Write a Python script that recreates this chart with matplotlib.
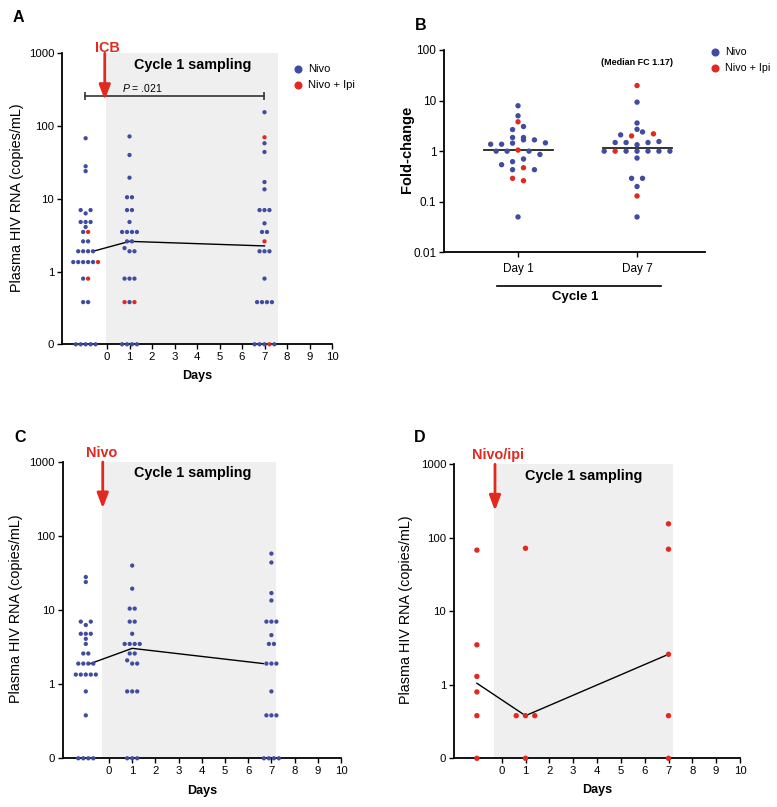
import numpy as np
import matplotlib
matplotlib.use('Agg')
import matplotlib.pyplot as plt
import matplotlib.ticker as mticker
from matplotlib.lines import Line2D

plt.rcParams['font.family'] = ['Liberation Sans', 'DejaVu Sans']
plt.rcParams['mathtext.fontset'] = 'custom'
plt.rcParams['mathtext.rm'] = 'Liberation Sans'
plt.rcParams['mathtext.it'] = 'Liberation Sans:italic'

# ---------------- data ----------------
y_tick_vals = [0, 1, 10, 100, 1000]
y_tick_labels = ['0', '1', '10', '100', '1000']
day_ticks = list(range(0, 11))

# Panel A: all participants (N = Nivo, I = Nivo + Ipi)
a_pre_vals = [0, 0, 0, 0, 0, 0.38, 0.38, 0.8, 0.8, 1.35, 1.35, 1.35, 1.35, 1.35, 1.35,
              1.9, 1.9, 1.9, 1.9, 2.6, 2.6, 3.5, 3.5, 4.1, 4.8, 4.8, 4.8, 7, 6.3, 7, 24, 28, 68]
a_pre_grp = list('NNNNN' 'NN' 'NI' 'NNNNNI' 'NNNN' 'NN' 'NI' 'N' 'NNN' 'NNN' 'NN' 'N')
a_d1_vals = [0, 0, 0, 0, 0.38, 0.38, 0.38, 0.8, 0.8, 0.8, 2.1, 1.9, 1.9, 2.6, 2.6,
             3.5, 3.5, 3.5, 3.5, 4.8, 7, 7, 10.5, 10.5, 19.5, 40, 72]
a_d1_grp = list('NNNN' 'INI' 'NNN' 'NNN' 'NN' 'NNNN' 'N' 'NN' 'NN' 'N' 'N' 'N')
a_d7_vals = [0, 0, 0, 0, 0, 0.38, 0.38, 0.38, 0.38, 0.8, 1.9, 1.9, 1.9, 2.6, 3.5, 3.5,
             4.6, 7, 7, 7, 13.5, 17, 44, 58, 70, 155]
a_d7_grp = list('NNNIN' 'NNNN' 'N' 'NNN' 'I' 'NN' 'N' 'NNN' 'N' 'N' 'N' 'N' 'I' 'N')

# Panel C: Nivo
c_pre_vals = [0, 0, 0, 0, 0.38, 0.8, 1.35, 1.35, 1.35, 1.35, 1.35, 1.9, 1.9, 1.9, 1.9,
              2.6, 2.6, 3.5, 4.1, 4.8, 4.8, 4.8, 7, 6.3, 7, 24, 28]
c_d1_vals = [0, 0, 0, 0.8, 0.8, 0.8, 2.1, 1.9, 1.9, 2.6, 2.6, 3.5, 3.5, 3.5, 3.5, 4.8,
             7, 7, 10.5, 10.5, 19.5, 40]
c_d7_vals = [0, 0, 0, 0, 0.38, 0.38, 0.38, 0.8, 1.9, 1.9, 1.9, 3.5, 3.5, 4.6, 7, 7, 7,
             13.5, 17, 44, 58]

# Panel D: Nivo/ipi
d_pre_vals = [0, 0.38, 0.8, 1.3, 3.5, 68]
d_d1_vals = [0, 0.38, 0.38, 0.38, 72]
d_d7_vals = [0, 0.38, 2.6, 70, 155]

# Panel B: fold-change
b_categories = ['Day 1', 'Day 7']
b_y_ticks = [0.01, 0.1, 1, 10, 100]
b_y_labels = ['0.01', '0.1', '1', '10', '100']
b_d1_vals = [0.05, 0.29, 0.26, 0.54, 0.43, 0.47, 0.43, 0.62, 0.70, 1.0, 1.0, 1.05, 1.0, 0.86,
             1.37, 1.37, 1.44, 1.67, 1.67, 1.46, 1.86, 1.86, 2.67, 3.07, 3.8, 5.0, 7.9]
b_d1_grp = list('N' 'II' 'NNIN' 'NN' 'NNINN' 'NNNNNN' 'NN' 'NN' 'I' 'N' 'N')
b_d7_vals = [0.05, 0.13, 0.2, 0.29, 0.29, 0.73, 1.0, 1.0, 1.0, 1.0, 1.0, 1.0, 1.0,
             1.48, 1.48, 1.34, 1.48, 1.55, 2.1, 2.0, 2.4, 2.2, 2.7, 3.6, 9.3, 19.8]
b_d7_grp = list('N' 'I' 'N' 'NN' 'N' 'NINNNNN' 'NNNNN' 'NINI' 'N' 'N' 'N' 'I')

# ---------------- style ----------------
BLUE = '#3f4c9f'
RED = '#e1291f'
SHADE = '#efefef'
W, H = 777, 807
fig = plt.figure(figsize=(W / 100, H / 100), dpi=100)
fig.patch.set_facecolor('white')


def add_ax(l, t, r, b):
    return fig.add_axes([l / W, 1 - b / H, (r - l) / W, (b - t) / H])


ZERO = 0.1  # where "0" sits on the log axis


def plot_y(v):
    v = np.asarray(v, float)
    return np.where(v > 0, v, ZERO)


def swarm(vals, thr, step):
    lv = np.log10(plot_y(vals))
    order = np.argsort(lv, kind='stable')
    rows, cur = [], [order[0]]
    for i in order[1:]:
        if lv[i] - lv[cur[0]] < thr:
            cur.append(i)
        else:
            rows.append(cur)
            cur = [i]
    rows.append(cur)
    off = np.zeros(len(lv))
    for row in rows:
        row = sorted(row)
        n = len(row)
        for k, i in enumerate(row):
            off[i] = (k - (n - 1) / 2) * step
    return off


def draw_dots(ax, x, vals, grps, step, s, thr):
    off = swarm(vals, thr, step)
    cols = [BLUE if g == 'N' else RED for g in grps]
    ax.scatter(x + off, plot_y(vals), s=s, c=cols, linewidths=0, zorder=3, clip_on=False)


def style_common(ax):
    ax.spines[['top', 'right']].set_visible(False)
    for sp in ['left', 'bottom']:
        ax.spines[sp].set_linewidth(1.3)
    ax.tick_params(length=3.6, width=1.0, labelsize=8.2, pad=2, colors='black')


def time_panel(ax, groups, xs, step, s, median_x, shade, arrow_x, label, label_x, label_y,
               text_x, text_y, dot_thr=0.06):
    ax.set_yscale('log')
    ax.set_ylim(ZERO, 1000)
    ax.set_xlim(-2, 10)
    ax.set_yticks(plot_y(y_tick_vals))
    ax.set_yticklabels(y_tick_labels)
    ax.yaxis.set_minor_locator(mticker.NullLocator())
    ax.set_xticks(day_ticks)
    ax.set_xticklabels([str(d) for d in day_ticks])
    style_common(ax)
    ax.axvspan(shade[0], shade[1], color=SHADE, zorder=0, lw=0)
    for x, (vals, grps) in zip(xs, groups):
        draw_dots(ax, x, vals, grps, step, s, dot_thr)
    meds = [np.median(v) for v, g in groups]
    ax.plot(median_x, meds, color='black', lw=1.0, zorder=2.8)
    ax.annotate('', xy=(arrow_x[0], arrow_x[1]), xytext=(arrow_x[0], 1000),
                arrowprops=dict(arrowstyle='-|>,head_length=0.9,head_width=0.34',
                                color=RED, lw=2.0, mutation_scale=10,
                                shrinkA=0, shrinkB=0), annotation_clip=False, zorder=4)
    ax.text(label_x, label_y, label, transform=ax.get_xaxis_transform(), color=RED,
            fontsize=10.4, fontweight='bold', ha='center', va='center')
    ax.text(text_x, text_y, 'Cycle 1 sampling', fontsize=10.4, fontweight='bold',
            ha='center', va='center')
    ax.text(0.5, -0.109, 'Days', transform=ax.transAxes, fontsize=9, fontweight='bold',
            ha='center', va='center')
    ax.text(-0.167, 0.505, 'Plasma HIV RNA (copies/mL)', transform=ax.transAxes,
            fontsize=10.4, rotation=90, ha='center', va='center')


# ---- Panel A ----
axA = add_ax(62, 53.3, 332, 344.3)
time_panel(axA, [(a_pre_vals, a_pre_grp), (a_d1_vals, a_d1_grp), (a_d7_vals, a_d7_grp)],
           [-0.95, 1, 7], 0.22, 9.5, [-0.62, 1, 7], (-0.05, 7.6), (-0.1, 228),
           'ICB', 0.0, 1.019, 3.8, 690)
axA.plot([-1, 6.98], [259, 259], color='#333333', lw=1.2, zorder=2.5)
axA.plot([-1, 6.98], [259, 259], color='#333333', ls='', marker='|', ms=6, mew=1.2)
axA.text(0.65, 333, '$P$ = .021', fontsize=7.5, ha='left', va='center')

# ---- Panel C ----
axC = add_ax(62.6, 462, 341, 758.3)
c_groups = [(v, ['N'] * len(v)) for v in (c_pre_vals, c_d1_vals, c_d7_vals)]
time_panel(axC, c_groups, [-1, 1, 7], 0.216, 9.5, [-0.8, 1, 6.65], (-0.32, 7.2), (-0.27, 237),
           'Nivo', -0.31, 1.031, 3.6, 716)

# ---- Panel D ----
axD = add_ax(454, 464.3, 740, 758.3)
d_groups = [(v, ['I'] * len(v)) for v in (d_pre_vals, d_d1_vals, d_d7_vals)]
time_panel(axD, d_groups, [-1.04, 1, 7], 0.39, 15, [-1.04, 1, 7], (-0.32, 7.2), (-0.28, 234),
           'Nivo/ipi', -0.17, 1.032, 3.45, 690)

# ---- Panel B ----
axB = add_ax(444, 50, 705, 252.3)
axB.set_yscale('log')
axB.set_ylim(0.01, 100)
axB.set_xlim(0.378, 2.571)
axB.set_yticks(b_y_ticks)
axB.set_yticklabels(b_y_labels)
axB.yaxis.set_minor_locator(mticker.NullLocator())
axB.set_xticks([1, 2])
axB.set_xticklabels(b_categories)
style_common(axB)
axB.tick_params(labelsize=8.5)
axB.tick_params(axis='x', pad=4)
for x, (vals, grps) in zip([1, 2], [(b_d1_vals, b_d1_grp), (b_d7_vals, b_d7_grp)]):
    off = swarm(vals, 0.115, 0.092)
    cols = [BLUE if g == 'N' else RED for g in grps]
    axB.scatter(x + off, vals, s=15, c=cols, linewidths=0, zorder=3)
    med = np.median(vals)
    axB.plot([x - 0.29, x + 0.29], [med, med], color='#222222', lw=1.3, zorder=2.5)
axB.text(2, 56, '(Median FC 1.17)', fontsize=6.5, fontweight='bold', ha='center', va='center')
axB.text(-0.142, 0.508, 'Fold-change', transform=axB.transAxes, fontsize=10.5,
         fontweight='bold', rotation=90, ha='center', va='center')
axB.plot([0.82, 2.2], [-0.167, -0.167], transform=axB.get_xaxis_transform(), clip_on=False,
         color='black', lw=1.2)
axB.text(1.48, -0.222, 'Cycle 1', transform=axB.get_xaxis_transform(), fontsize=9.5,
         fontweight='bold', ha='center', va='center')


# ---- legends ----
def legend_item(xp, yp, color, text, fs):
    fig.add_artist(Line2D([xp / W], [1 - yp / H], marker='o', ls='', ms=5.8, color=color,
                          mew=0, transform=fig.transFigure))
    fig.text((xp + 10) / W, 1 - yp / H, text, fontsize=fs, ha='left', va='center')


legend_item(297.7, 69, BLUE, 'Nivo', 8)
legend_item(297.7, 85, RED, 'Nivo + Ipi', 8)
legend_item(715, 51.7, BLUE, 'Nivo', 7.7)
legend_item(715, 67.7, RED, 'Nivo + Ipi', 7.7)

# ---- panel letters ----
for lx, ly, letter in [(18, 18, 'A'), (421, 26, 'B'), (20, 437, 'C'), (420, 437, 'D')]:
    fig.text(lx / W, 1 - ly / H, letter, fontsize=11.5, fontweight='bold', ha='center',
             va='center')

fig.savefig('out.png', dpi=100, facecolor='white')
